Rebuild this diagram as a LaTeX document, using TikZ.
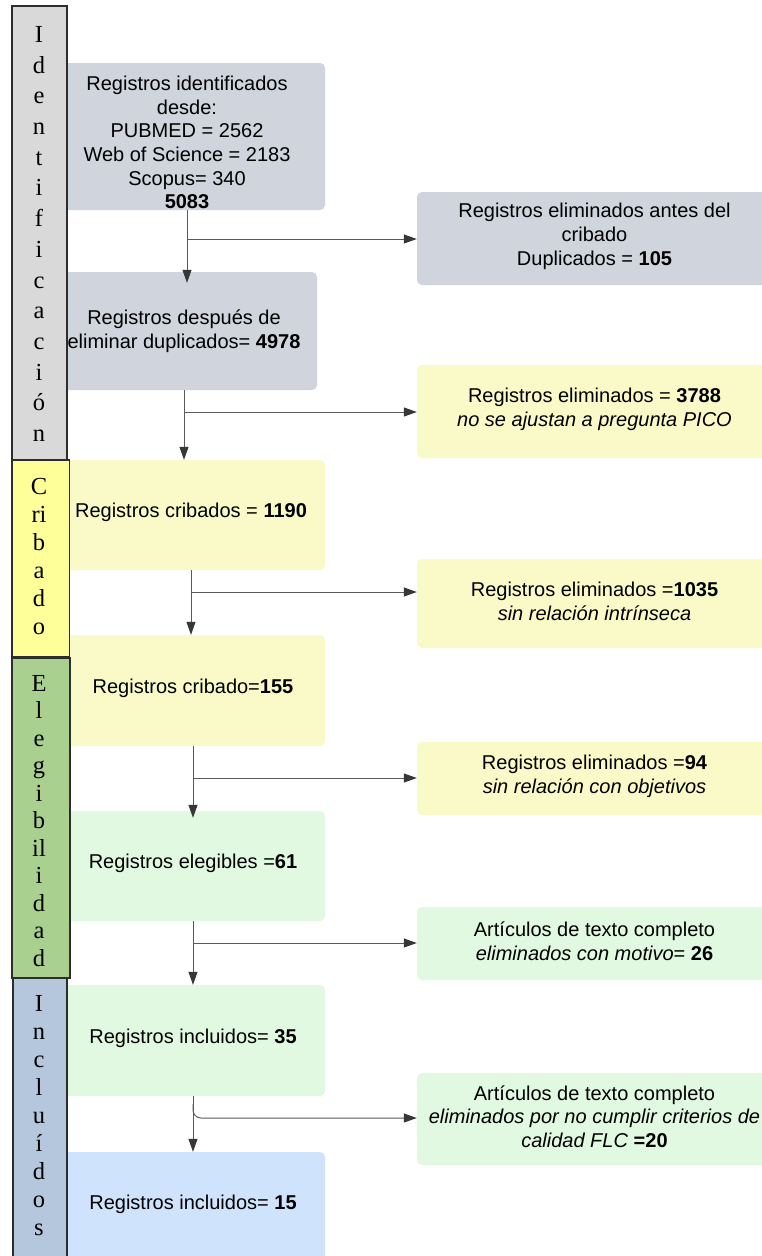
\documentclass[tikz,border=0pt]{standalone}
\usepackage{fontspec}
\setmainfont{Liberation Sans}
\newfontfamily\sidefont{Liberation Serif}
\usetikzlibrary{arrows.meta}
\definecolor{boxgray}{RGB}{207,212,221}
\definecolor{boxyellow}{RGB}{250,250,200}
\definecolor{boxgreen}{RGB}{225,248,225}
\definecolor{boxblue}{RGB}{208,227,252}
\definecolor{sidegray}{RGB}{217,217,217}
\definecolor{sideyellow}{RGB}{255,255,153}
\definecolor{sidegreen}{RGB}{169,208,142}
\definecolor{sideblue}{RGB}{180,199,220}
\definecolor{linegray}{RGB}{90,90,90}
\definecolor{tipgray}{RGB}{55,55,55}
\definecolor{sideborder}{RGB}{45,45,45}
\begin{document}
\begin{tikzpicture}[x=1bp,y=-1bp,
  box/.style={draw=none, rounded corners=5bp, inner sep=0pt},
  sidebar/.style={draw=sideborder, line width=1.3bp, inner sep=0pt},
  sidetxt/.style={font=\sidefont\fontsize{24.5bp}{#1}\selectfont, align=center, inner sep=0pt},
  txt/.style={font=\fontsize{20bp}{23.7bp}\selectfont, align=center, inner sep=0pt},
  arr/.style={draw=linegray, line width=1bp, -{Triangle[length=13bp,width=9bp,color=tipgray]}},
  ln/.style={draw=linegray, line width=1bp}
]
\useasboundingbox (0,0) rectangle (762,1256);
\clip (0,0) rectangle (762,1256);
\fill[white] (0,0) rectangle (762,1256);

% left column boxes
\node[box, fill=boxgray,   minimum width=265bp, minimum height=147bp] (b1) at (192.5,136.5) {};
\node[box, fill=boxgray,   minimum width=257bp, minimum height=118bp] (b2) at (188.5,331) {};
\node[box, fill=boxyellow, minimum width=265bp, minimum height=110bp] (b3) at (192.5,515) {};
\node[box, fill=boxyellow, minimum width=265bp, minimum height=111bp] (b4) at (192.5,690.5) {};
\node[box, fill=boxgreen,  minimum width=265bp, minimum height=110bp] (b5) at (192.5,866) {};
\node[box, fill=boxgreen,  minimum width=265bp, minimum height=111bp] (b6) at (192.5,1040.5) {};
\node[box, fill=boxblue,   minimum width=265bp, minimum height=124bp] (b7) at (192.5,1214) {};

% right column boxes
\node[box, fill=boxgray,   minimum width=363bp, minimum height=93bp] (r1) at (598.5,238.5) {};
\node[box, fill=boxyellow, minimum width=363bp, minimum height=93bp] (r2) at (598.5,411.5) {};
\node[box, fill=boxyellow, minimum width=363bp, minimum height=89bp] (r3) at (598.5,603.5) {};
\node[box, fill=boxyellow, minimum width=363bp, minimum height=73bp] (r4) at (598.5,778.5) {};
\node[box, fill=boxgreen,  minimum width=363bp, minimum height=73bp] (r5) at (598.5,943.5) {};
\node[box, fill=boxgreen,  minimum width=363bp, minimum height=92bp] (r6) at (598.5,1119) {};

% sidebars
\node[sidebar, fill=sidegray,   minimum width=55bp, minimum height=454bp] (s1) at (39.5,233) {};
\node[sidebar, fill=sideyellow, minimum width=57.5bp, minimum height=197bp] (s2) at (40.75,558.5) {};
\node[sidebar, fill=sidegreen,  minimum width=58bp, minimum height=320bp] (s3) at (41,818) {};
\node[sidebar, fill=sideblue,   minimum width=54bp, minimum height=290bp] (s4) at (40,1123) {};

\node[sidetxt=30.7bp] (s1t) at (39,234) {I\\d\\e\\n\\t\\i\\f\\i\\c\\a\\c\\i\\ó\\n};
\node[sidetxt=28bp] (s2t) at (39,556) {C\\ri\\b\\a\\d\\o};
\node[sidetxt=27.5bp] (s3t) at (39,821) {E\\l\\e\\g\\i\\b\\il\\i\\d\\a\\d};
\node[sidetxt=28bp] (s4t) at (39,1116) {I\\n\\c\\l\\u\\í\\d\\o\\s};

% junctions
\coordinate (j1) at (187,239);
\coordinate (j2) at (184,412);
\coordinate (j3) at (191,592);
\coordinate (j4) at (193,778);
\coordinate (j5) at (193,943);
\coordinate (j6) at (193,1118);

% connectors
\draw[arr] (b1.south -| j1) -- ([yshift=-11bp]b2.north -| j1);
\draw[arr] (j1) -- (j1 -| r1.west);
\draw[arr] (b2.south -| j2) -- (b3.north -| j2);
\draw[arr] (j2) -- (j2 -| r2.west);
\draw[arr] (b3.south -| j3) -- (b4.north -| j3);
\draw[arr] (j3) -- (j3 -| r3.west);
\draw[arr] (b4.south -| j4) -- ([yshift=-7bp]b5.north -| j4);
\draw[arr] (j4) -- (j4 -| r4.west);
\draw[arr] (b5.south -| j5) -- (b6.north -| j5);
\draw[arr] (j5) -- (j5 -| r5.west);
\draw[arr] (b6.south -| j6) -- (b7.north -| j6);
\draw[arr, rounded corners=8bp] ([yshift=14bp]j6) -- (j6) -- (j6 -| r6.west);

% texts, left
\node[txt] (t1) at (187,142.5) {Registros identificados\\desde:\\PUBMED = 2562\\Web of Science = 2183\\Scopus= 340\\\textbf{5083}};
\node[txt] (t2) at (184,331) {Registros después de\\eliminar duplicados= \textbf{4978}};
\node[txt] (t3) at (191,512) {Registros cribados = \textbf{1190}};
\node[txt] (t4) at (193,688) {Registros cribado=\textbf{155}};
\node[txt] (t5) at (193,863) {Registros elegibles =\textbf{61}};
\node[txt] (t6) at (193,1038) {Registros incluidos= \textbf{35}};
\node[txt] (t7) at (193,1204) {Registros incluidos= \textbf{15}};

% texts, right
\node[txt] (u1) at (594.5,236.5) {Registros eliminados antes del\\cribado\\Duplicados = \textbf{105}};
\node[txt] (u2) at (594.5,409.5) {Registros eliminados = \textbf{3788}\\\textit{no se ajustan a pregunta PICO}};
\node[txt] (u3) at (594.5,601.5) {Registros eliminados =\textbf{1035}\\\textit{sin relación intrínseca}};
\node[txt] (u4) at (594.5,776) {Registros eliminados =\textbf{94}\\\textit{sin relación con objetivos}};
\node[txt] (u5) at (594.5,941) {Artículos de texto completo\\\textit{eliminados con motivo}= \textbf{26}};
\node[txt] (u6) at (594.5,1116.5) {Artículos de texto completo\\\textit{eliminados por no cumplir criterios de}\\\textit{calidad FLC} \textbf{=20}};
\end{tikzpicture}
\end{document}
